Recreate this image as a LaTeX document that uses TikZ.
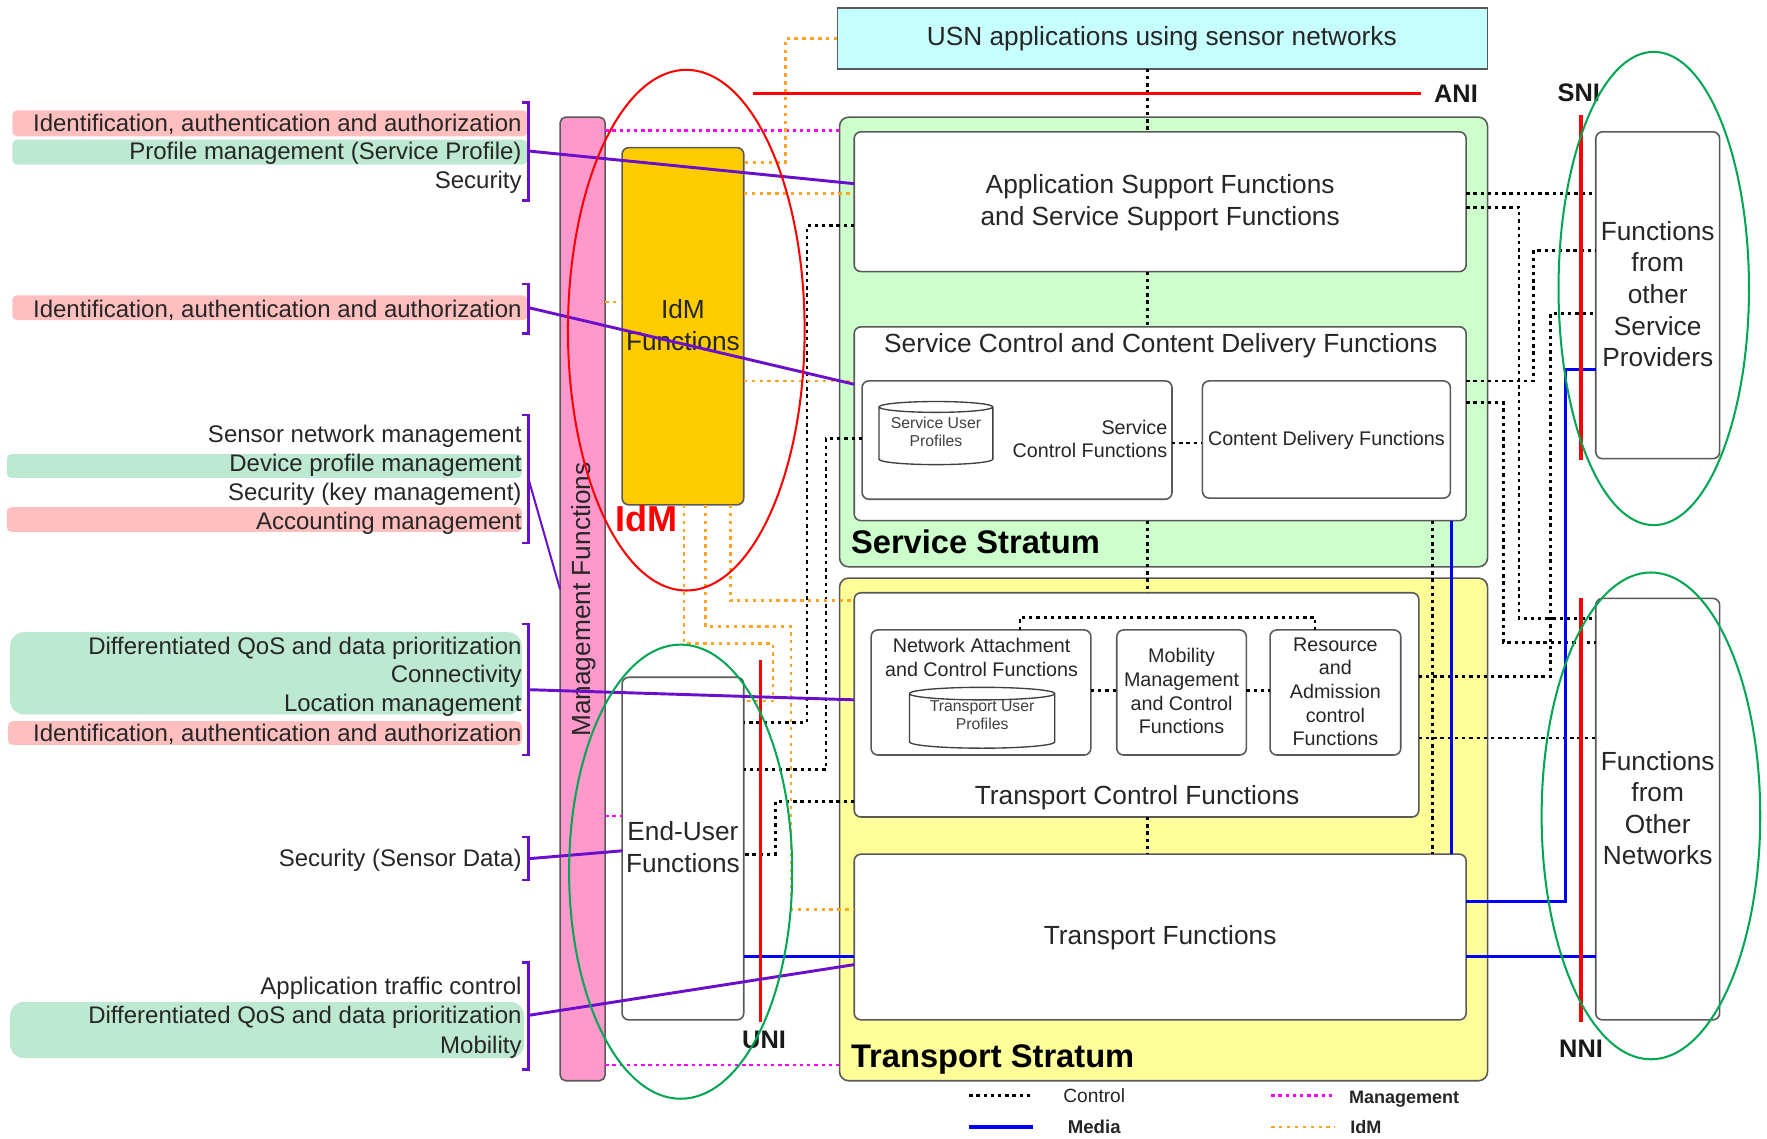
\documentclass[tikz,border=0pt]{standalone}
\usepackage{fontspec}
\setmainfont{Liberation Sans}
\usetikzlibrary{positioning,shapes.geometric}

\definecolor{c_usn}{HTML}{C6FFFF}
\definecolor{c_service}{HTML}{CCFFCC}
\definecolor{c_transport}{HTML}{FFFF99}
\definecolor{c_mgmt}{HTML}{FF99CC}
\definecolor{c_idm}{HTML}{FFCC00}
\definecolor{c_pink}{HTML}{FFBFBF}
\definecolor{c_mint}{HTML}{BDE9D2}
\definecolor{c_magenta}{HTML}{FF00FF}
\definecolor{c_orange}{HTML}{FFA526}
\definecolor{c_blue}{HTML}{0000FF}
\definecolor{c_red}{HTML}{FF0000}
\definecolor{c_purple}{HTML}{6A10CC}
\definecolor{c_ring}{HTML}{00A651}

\begin{document}
\begin{tikzpicture}[x=1pt,y=-1pt,
	box/.style={draw=black!65,line width=1.4pt,rounded corners=6pt,fill=white,inner sep=0pt,outer sep=0pt},
	stratum/.style={box,rounded corners=8pt},
	db/.style={draw=black!75,line width=1.2pt,fill=white,cylinder,shape border rotate=90,aspect=0.12,inner sep=0pt,outer sep=0pt,align=center,font=\fontsize{14}{16}\selectfont},
	txt/.style={inner sep=0pt,align=center,text=black!85,font=\fontsize{23.3}{28}\selectfont},
	small txt/.style={txt,font=\fontsize{17.5}{21}\selectfont},
	tiny txt/.style={txt,text=black!75,font=\fontsize{14}{16}\selectfont},
	lbl/.style={anchor=east,inner sep=0pt,yshift=-2pt,text=black!85,font=\fontsize{21.3}{25}\selectfont},
	iface/.style={font=\bfseries\fontsize{22.5}{27}\selectfont,text=black!90,inner sep=0pt},
	head/.style={inner sep=0pt,anchor=west,text=black,font=\bfseries\fontsize{29}{34}\selectfont},
	ctrl/.style={line width=2.4pt,black,dash pattern=on 3pt off 3.4pt},
	mgmt/.style={line width=2.4pt,c_magenta,dash pattern=on 3pt off 3.4pt},
	idm/.style={line width=2.4pt,c_orange,dash pattern=on 3pt off 4pt},
	media/.style={line width=2.6pt,c_blue},
	refline/.style={line width=3.2pt,c_red},
	maps/.style={line width=2.6pt,c_purple},
	ring/.style={ellipse,draw,line width=1.8pt,inner sep=0pt,outer sep=0pt}]

\useasboundingbox (0,0) rectangle (1568,1010.7);

% bands behind the left labels
\foreach \xa/\ya/\xb/\yb/\col/\r in {11/98/468/121/c_pink/4,11/124/468/146/c_mint/4,11/262/468/284/c_pink/4,
	6/403/463/424/c_mint/4,6/450/463/472/c_pink/4,9/561/463/634/c_mint/12,7/640/463/661/c_pink/4,9/889/465/939/c_mint/12}
	\fill[\col,rounded corners=\r pt] (\xa,\ya) rectangle (\xb,\yb);

\foreach \y/\t [count=\i] in {108/{Identification, authentication and authorization},134/{Profile management (Service Profile)},160/Security,
	273/{Identification, authentication and authorization},385/Sensor network management,411/Device profile management,
	437/{Security (key management)},462/Accounting management,573/{Differentiated QoS and data prioritization},598/Connectivity,
	624/Location management,650/{Identification, authentication and authorization},761/{Security (Sensor Data)},
	875/Application traffic control,901/{Differentiated QoS and data prioritization},927/Mobility}
	\node[lbl] (l_\i) at (463,\y) {\t};

% brackets
\foreach \ya/\yb in {91/178,252/296,368/482,554/670,743/781,854/949}
	\draw[line width=2pt,c_purple] (463,\ya) -- (469,\ya) -- (469,\yb) -- (463,\yb);

\node[box,fill=c_usn,rounded corners=0pt,minimum width=577pt,minimum height=54pt] (usn) at (1031.5,34) {};
\node[stratum,fill=c_service,minimum width=575pt,minimum height=399pt] (s_service) at (1032.5,303.5) {};
\node[stratum,fill=c_transport,minimum width=575pt,minimum height=446pt] (s_transport) at (1032.5,736) {};
\node[box,fill=c_mgmt,rounded corners=5pt,minimum width=40pt,minimum height=855pt] (f_mgmt) at (517,531.5) {};
\node[box,fill=c_idm,minimum width=108pt,minimum height=317pt] (f_idm) at (606,289.5) {};
\node[box,minimum width=108pt,minimum height=304pt] (f_user) at (606,753) {};

\node[box,minimum width=543pt,minimum height=124pt] (f_app) at (1029.5,179) {};
\node[box,minimum width=543pt,minimum height=172pt] (f_sccd) at (1029.5,376) {};
\node[box,minimum width=275pt,minimum height=105pt] (f_sc) at (902.5,390.5) {};
\node[box,minimum width=220pt,minimum height=104pt] (f_cd) at (1177,390) {};
\node[db,minimum width=101pt,minimum height=56pt] (d_service) at (830.5,387) {\phantom{Service User}\\\phantom{Profiles}};

\node[box,minimum width=501pt,minimum height=199pt] (f_tc) at (1008.5,625.5) {};
\node[box,minimum width=195pt,minimum height=111pt] (f_nacf) at (870.5,614.5) {};
\node[db,minimum width=129pt,minimum height=54pt] (d_transport) at (871.5,640) {\phantom{Transport User}\\\phantom{Profiles}};
\node[box,minimum width=115pt,minimum height=111pt] (f_mmcf) at (1048.5,614.5) {};
\node[box,minimum width=116pt,minimum height=111pt] (f_racf) at (1185,614.5) {};
\node[box,minimum width=543pt,minimum height=147pt] (f_trans) at (1029.5,831.5) {};

\node[box,minimum width=110pt,minimum height=290pt] (f_sp) at (1471,262) {};
\node[box,minimum width=110pt,minimum height=374pt] (f_nw) at (1471,718) {};

% texts of the boxes
\node[txt] (t_usn) at (1031,34) {USN applications using sensor networks};
\node[txt,rotate=90] (t_mgmt) at (518,532) {Management Functions};
\node[txt] (t_idmf) at (606,288.5) {IdM\\Functions};
\node[txt] (t_user) at (606,751.5) {End-User\\Functions};
\node[txt] (t_app) at (1029.5,180) {Application Support Functions\\and Service Support Functions};
\node[txt] (t_sccd) at (1030,307) {Service Control and Content Delivery Functions};
\node[small txt] (t_cd) at (1177,391) {Content Delivery Functions};
\node[tiny txt] (t_dserv) at (830.5,383) {Service User\\Profiles};
\node[small txt,anchor=east,align=right] (t_sc) at (1036,389.5) {Service\\Control Functions};
\node[txt] (t_tc) at (1009,708) {Transport Control Functions};
\node[small txt] (t_nacf) at (871,583.5) {Network Attachment\\and Control Functions};
\node[tiny txt] (t_dtrans) at (871.5,635) {Transport User\\Profiles};
\node[small txt] (t_mmcf) at (1048.5,613.5) {Mobility\\Management\\and Control\\Functions};
\node[small txt] (t_racf) at (1185,614) {Resource\\and\\Admission\\control\\Functions};
\node[txt] (t_trans) at (1029.5,832.5) {Transport Functions};
\node[txt] (t_sp) at (1471,261) {Functions\\from\\other\\Service\\Providers};
\node[txt] (t_nw) at (1471,717) {Functions\\from\\Other\\Networks};
\node[head] (t_service) at (755,481) {Service Stratum};
\node[head] (t_transport) at (755,940) {Transport Stratum};

% control
\draw[ctrl] (usn.south -| 1018,0) -- (f_app.north -| 1018,0);
\draw[ctrl] (f_app.south -| 1018,0) -- (f_sccd.north -| 1018,0);
\draw[ctrl] (f_sccd.south -| 1018,0) -- (f_tc.north -| 1018,0);
\draw[ctrl] (f_tc.south -| 1018,0) -- (f_trans.north -| 1018,0);
\draw[ctrl] (f_sc.east |- 0,393) -- (f_cd.west |- 0,393);
\draw[ctrl] (f_nacf.east |- 0,613) -- (f_mmcf.west |- 0,613);
\draw[ctrl] (f_mmcf.east |- 0,613) -- (f_racf.west |- 0,613);
\draw[ctrl] (f_nacf.north -| 905,0) -- (905,548) -- (1167,548) -- (f_racf.north -| 1167,0);
\draw[ctrl] (f_app.west |- 0,200) -- (716,200) -- (716,641) -- (f_user.east |- 0,641);
\draw[ctrl] (f_sc.west |- 0,389) -- (733,389) -- (733,683) -- (f_user.east |- 0,683);
\draw[ctrl] (f_tc.west |- 0,711) -- (688,711) -- (688,758) -- (f_user.east |- 0,758);
\draw[ctrl] (f_sccd.south -| 1271,0) -- (f_trans.north -| 1271,0);
\draw[ctrl] (f_app.east |- 0,172) -- (f_sp.west |- 0,172);
\draw[ctrl] (f_app.east |- 0,184) -- (1348,184) -- (1348,549) -- (f_nw.west |- 0,549);
\draw[ctrl] (f_sccd.east |- 0,338) -- (1361,338) -- (1361,222) -- (f_sp.west |- 0,222);
\draw[ctrl] (f_sccd.east |- 0,357) -- (1334,357) -- (1334,570) -- (f_nw.west |- 0,570);
\draw[ctrl] (f_tc.east |- 0,600) -- (1376,600) -- (1376,278) -- (f_sp.west |- 0,278);
\draw[ctrl] (f_tc.east |- 0,655) -- (f_nw.west |- 0,655);

% media
\draw[media] (f_sccd.south -| 1288,0) -- (f_trans.north -| 1288,0);
\draw[media] (f_sp.west |- 0,328) -- (1389,328) -- (1389,800) -- (f_trans.east |- 0,800);
\draw[media] (f_trans.east |- 0,849) -- (f_nw.west |- 0,849);
\draw[media] (f_user.east |- 0,849) -- (f_trans.west |- 0,849);

% management
\draw[mgmt] (f_mgmt.east |- 0,116) -- (s_service.west |- 0,116);
\draw[mgmt] (f_mgmt.east |- 0,724) -- (f_user.west |- 0,724);
\draw[mgmt] (f_mgmt.east |- 0,945) -- (s_transport.west |- 0,945);

% idm
\draw[idm] (usn.west |- 0,34) -- (697,34) -- (697,144) -- (f_idm.east |- 0,144);
\draw[idm] (f_idm.east |- 0,172) -- (f_app.west |- 0,172);
\draw[idm] (f_mgmt.east |- 0,268) -- (f_idm.west |- 0,268);
\draw[idm] (f_idm.east |- 0,338) -- (f_sccd.west |- 0,338);
\draw[idm] (f_idm.south -| 648,0) -- (648,533) -- (f_tc.west |- 0,533);
\draw[idm] (f_idm.south -| 626,0) -- (626,556) -- (702,556) -- (702,807) -- (f_trans.west |- 0,807);
\draw[idm] (f_idm.south -| 607,0) -- (607,571) -- (686,571) -- (686,622) -- (f_user.east |- 0,622);

% reference points
\node[iface] (t_ani) at (1292,83) {ANI};
\node[iface] (t_sni) at (1401,82) {SNI};
\node[iface] (t_nni) at (1403,931) {NNI};
\node[iface] (t_uni) at (678,923) {UNI};
\draw[refline] (668,83) -- (t_ani.west -| 1261,0);
\draw[refline,shorten <=12pt] (t_sni.south -| 1403,0) -- (1403,408);
\draw[refline,shorten >=16pt] (1403,531) -- (t_nni.north -| 1403,0);
\draw[refline,shorten >=8pt] (675,586) -- (t_uni.north -| 675,0);

% what maps onto what
\coordinate (b_1) at (469,134);
\coordinate (b_2) at (469,273);
\coordinate (b_3) at (469,425);
\coordinate (b_4) at (469,612);
\coordinate (b_5) at (469,762);
\coordinate (b_6) at (469,901);
\draw[maps] (b_1) -- (f_app.west |- 0,163);
\draw[maps] (b_2) -- (f_sccd.west |- 0,341);
\draw[maps,line width=1.8pt] (b_3) -- (f_mgmt.west |- 0,523);
\draw[maps] (b_4) -- (f_tc.west |- 0,621);
\draw[maps] (b_5) -- (f_user.west |- 0,755);
\draw[maps] (b_6) -- (f_trans.west |- 0,856);

% rings
\node[ring,c_red,minimum width=210pt,minimum height=462pt] (r_idm) at (609,293) {};
\node[ring,c_ring,minimum width=198pt,minimum height=403pt] (r_user) at (604,773.5) {};
\node[ring,c_ring,minimum width=169pt,minimum height=420pt] (r_sp) at (1467.5,256) {};
\node[ring,c_ring,minimum width=194pt,minimum height=432pt] (r_nw) at (1465,724) {};
\node[inner sep=0pt,text=c_red,font=\bfseries\fontsize{32}{38}\selectfont] (t_idm) at (574,460) {IdM};

% legend
\node[inner sep=0pt,text=black!85,font=\fontsize{17}{20}\selectfont] (k_ctrl) at (971,972) {Control};
\node[inner sep=0pt,text=black!85,font=\bfseries\fontsize{16.5}{20}\selectfont] (k_media) at (971,1000) {Media};
\node[inner sep=0pt,text=black!85,font=\bfseries\fontsize{16}{20}\selectfont] (k_mgmt) at (1246,975) {Management};
\node[inner sep=0pt,text=black!85,font=\bfseries\fontsize{16}{20}\selectfont] (k_idm) at (1212,1000) {IdM};
\coordinate (k_a) at (860,972);
\coordinate (k_b) at (917,972);
\coordinate (k_c) at (860,1000);
\coordinate (k_d) at (917,1000);
\coordinate (k_e) at (1128,972);
\coordinate (k_f) at (1185,972);
\coordinate (k_g) at (1128,1000);
\coordinate (k_h) at (1185,1000);
\draw[ctrl] (k_a) -- (k_b);
\draw[media,line width=3pt] (k_c) -- (k_d);
\draw[mgmt] (k_e) -- (k_f);
\draw[idm] (k_g) -- (k_h);
\end{tikzpicture}
\end{document}
